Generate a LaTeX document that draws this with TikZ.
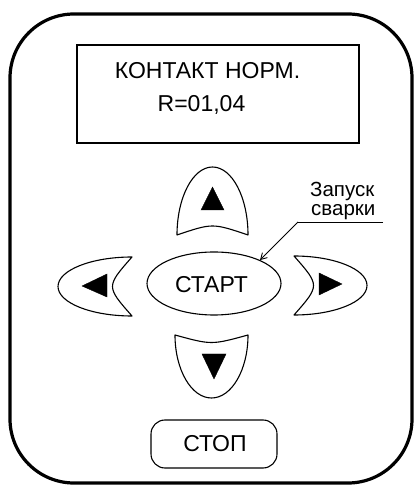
\documentclass[tikz,border=0pt]{standalone}
\usepackage{fontspec}
\setmainfont{Liberation Sans}
\usetikzlibrary{shapes.geometric,arrows.meta}
\tikzset{
  btn/.style={draw=black, line width=1.1pt, line join=round},
  tri/.style={fill=black, draw=black, line width=0.4pt, line join=miter},
  lbl/.style={anchor=base, inner sep=0pt, font=\fontsize{23}{23}\selectfont},
  note/.style={anchor=base west, inner sep=0pt, align=left, font=\fontsize{20.5}{19}\selectfont},
}
\begin{document}
\begin{tikzpicture}[x=1pt,y=1pt]
\useasboundingbox (0,0) rectangle (416,486);
% outer body
\draw[line width=3.2pt, rounded corners=64pt] (10,3) rectangle (412,472);
% display
\node[draw, line width=1.1pt, minimum width=282pt, minimum height=98pt, inner sep=0pt] (disp) at (218,392) {};
\node[lbl] (l1) at (207.5,407) {КОНТАКТ НОРМ.};
\node[lbl] (l2) at (201.5,374) {R=01,04};
% up button
\draw[btn] (177,251) arc[start angle=180, end angle=0, x radius=35.5, y radius=68]
  .. controls (212.5,263) .. cycle;
\draw[tri] (212.5,299) -- (224,276) -- (201,276) -- cycle;
% down button
\draw[btn] (175,151) arc[start angle=180, end angle=360, x radius=36.5, y radius=63]
  .. controls (211.5,141) .. cycle;
\draw[tri] (214,107) -- (226,132) -- (202,132) -- cycle;
% left button
\draw[btn] (132,229) arc[start angle=90, end angle=270, x radius=74, y radius=29.5]
  .. controls (106,199.5) .. cycle;
\draw[tri] (82,200) -- (107,212) -- (107,189) -- cycle;
% right button
\draw[btn] (294,230) arc[start angle=90, end angle=-90, x radius=73, y radius=29.5]
  .. controls (320,200.5) .. cycle;
\draw[tri] (342,202) -- (319,213) -- (319,191) -- cycle;
% start
\node[ellipse, btn, minimum width=134pt, minimum height=63pt, inner sep=0pt] (start) at (214,202.5) {};
\node[lbl] (starttxt) at (211.5,193) {СТАРТ};
% stop
\node[btn, rounded corners=14pt, minimum width=126pt, minimum height=48pt, inner sep=0pt] (stop) at (214,42) {};
\node[lbl] (stoptxt) at (215,34) {СТОП};
% annotation
\node[note] (note) at (310,270) {Запуск\\\hspace*{1pt}сварки};
\coordinate (u1) at (298,264);
\coordinate (u2) at (383,264);
\draw[line width=0.9pt] (u2) -- (u1);
\draw[line width=0.9pt, -{Straight Barb[length=6pt,width=7pt]}] (u1) -- (start.27);
\end{tikzpicture}
\end{document}
